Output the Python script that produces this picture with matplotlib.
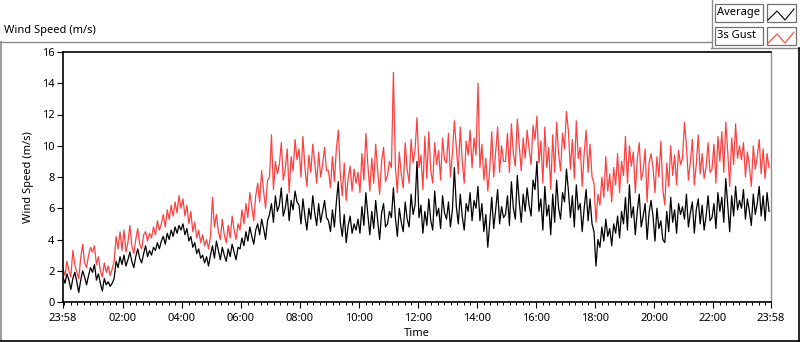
import numpy as np
import matplotlib.pyplot as plt
from matplotlib.lines import Line2D
from matplotlib.patches import Rectangle

plt.rcParams['font.family'] = ['Noto Sans', 'DejaVu Sans']

# 4-minute samples starting at 23:58, one row per hour
avg = [
    1.6, 1.2, 1.8, 1.4, 0.8, 1.5, 1.9, 1.3, 0.6, 1.4, 2.0, 1.6, 1.1, 1.7, 2.2,
    1.9, 2.4, 1.4, 1.8, 1.2, 0.7, 1.5, 1.1, 1.3, 1.0, 1.2, 1.5, 2.6, 2.2, 2.9,
    2.4, 3.0, 2.3, 2.7, 3.2, 2.6, 2.2, 2.9, 3.4, 2.8, 2.5, 3.1, 3.6, 2.9, 3.3,
    3.0, 3.5, 3.3, 3.8, 3.4, 3.9, 4.2, 3.7, 4.4, 4.0, 4.6, 4.2, 4.8, 4.4, 4.9,
    4.6, 5.0, 4.3, 4.7, 3.9, 4.2, 3.5, 3.8, 3.1, 3.4, 2.8, 3.0, 2.5, 2.9, 2.3,
    3.0, 3.6, 2.8, 3.9, 3.3, 2.7, 3.5, 3.0, 2.6, 3.4, 2.9, 3.7, 3.2, 2.7, 3.5,
    3.4, 4.1, 3.6, 4.5, 3.9, 4.8, 4.2, 3.7, 4.6, 5.0, 4.3, 5.3, 4.7, 4.0, 5.2,
    5.6, 6.3, 5.1, 6.8, 5.8, 6.2, 7.3, 5.5, 6.0, 6.9, 5.2, 6.5, 5.9, 7.1, 6.4,
    6.2, 5.0, 6.6, 5.5, 4.6, 6.0, 5.3, 6.8, 5.7, 4.9, 6.3, 5.1, 5.8, 6.5, 5.4,
    5.2, 4.5, 5.9, 4.8, 6.4, 7.7, 5.1, 4.2, 5.6, 3.8, 4.9, 5.5, 4.4, 5.0, 4.6,
    5.3, 4.4, 6.1, 4.9, 7.0, 5.6, 4.3, 5.8, 4.7, 6.5, 5.2, 4.0, 5.7, 6.3, 4.8,
    5.0, 5.8, 5.4, 7.3, 5.4, 4.2, 6.0, 5.1, 4.5, 6.4, 5.3, 4.8, 6.9, 5.6, 6.2,
    9.0, 5.4, 6.2, 4.4, 5.8, 4.9, 6.6, 5.2, 4.6, 7.1, 5.5, 6.0, 4.7, 6.8, 5.7,
    5.3, 6.4, 4.8, 5.9, 8.6, 6.1, 5.0, 6.9, 5.5, 4.6, 6.3, 5.8, 7.0, 5.2, 6.5,
    6.0, 7.4, 5.2, 6.3, 4.5, 5.6, 3.5, 5.1, 6.7, 4.7, 5.9, 7.2, 5.0, 6.1, 5.4,
    5.6, 6.8, 4.9, 7.7, 6.0, 5.3, 8.1, 6.4, 5.1, 6.9, 5.8, 7.3, 6.2, 5.5, 7.8,
    7.2, 9.0, 5.8, 6.6, 4.6, 7.4, 5.5, 6.2, 4.3, 6.9, 5.1, 7.8, 6.0, 5.3, 7.0,
    6.4, 8.5, 7.1, 5.4, 6.8, 4.8, 7.5, 5.9, 6.3, 4.5, 6.0, 7.2, 5.2, 6.6, 5.0,
    4.5, 2.3, 4.0, 3.5, 4.8, 3.9, 5.3, 4.2, 4.7, 3.6, 5.0, 4.4, 5.5, 4.1, 5.8,
    5.0, 6.7, 4.6, 7.5, 5.4, 6.1, 4.3, 5.8, 6.9, 4.8, 5.5, 6.3, 4.0, 5.7, 6.5,
    5.5, 3.9, 6.0, 4.7, 5.2, 4.0, 3.8, 5.8, 4.5, 6.7, 5.1, 5.9, 4.4, 6.3, 5.6,
    6.1, 5.3, 6.9, 4.8, 5.7, 6.4, 4.4, 5.9, 6.6, 5.0, 6.2, 4.6, 5.5, 6.8, 5.2,
    5.4, 6.3, 4.7, 7.0, 5.8, 6.7, 5.1, 7.9, 6.2, 4.5, 6.8, 5.5, 7.4, 5.9, 6.5,
    6.0, 7.2, 5.3, 6.6, 5.8, 4.9, 6.9, 5.6, 6.3, 7.4, 5.5, 6.8, 5.2, 7.0, 5.8,
]
gust = [
    2.1, 1.7, 2.6, 2.0, 1.6, 3.3, 2.4, 1.9, 1.5, 2.8, 3.7, 2.5, 2.2, 3.0, 3.5,
    3.2, 3.6, 2.4, 2.9, 2.0, 1.6, 2.5, 1.9, 2.3, 1.7, 2.1, 2.6, 4.2, 3.4, 4.5,
    3.3, 4.6, 3.2, 3.8, 4.9, 3.6, 3.1, 4.0, 4.7, 3.7, 3.4, 4.3, 4.5, 3.9, 4.4,
    4.1, 4.8, 4.3, 5.2, 4.6, 5.0, 5.6, 4.8, 5.9, 5.3, 6.2, 5.5, 6.4, 5.7, 6.8,
    6.0, 6.6, 5.5, 6.2, 5.0, 5.8, 4.5, 5.1, 4.1, 4.6, 3.8, 4.3, 3.6, 4.0, 3.4,
    4.2, 6.7, 4.8, 5.6, 4.5, 4.0, 5.3, 4.3, 3.8, 4.9, 4.1, 5.5, 4.6, 4.0, 5.0,
    4.6, 5.9, 5.0, 6.3, 5.4, 7.0, 6.1, 5.2, 6.8, 7.6, 6.4, 8.4, 7.1, 6.0, 7.8,
    8.0, 10.7, 7.2, 9.0, 8.2, 8.8, 10.2, 7.8, 8.5, 9.8, 7.0, 9.3, 8.4, 10.4, 9.1,
    9.8, 8.0, 10.6, 8.6, 7.4, 9.4, 8.3, 10.1, 8.9, 7.6, 9.6, 8.0, 8.8, 9.9, 8.4,
    8.4, 7.3, 9.3, 7.7, 9.8, 11.0, 8.2, 6.8, 8.9, 6.5, 7.9, 8.7, 7.1, 8.5, 7.6,
    8.3, 7.0, 9.5, 7.8, 10.8, 8.8, 7.1, 9.2, 7.6, 10.1, 8.4, 6.9, 9.0, 9.9, 7.7,
    8.1, 9.0, 8.6, 14.7, 8.7, 7.0, 9.6, 8.2, 7.3, 10.2, 8.5, 7.6, 10.4, 8.9, 9.7,
    11.8, 8.6, 9.4, 7.2, 10.6, 7.9, 10.9, 8.4, 7.6, 10.2, 8.8, 9.7, 7.8, 10.5, 9.1,
    8.9, 10.8, 8.0, 9.5, 11.6, 9.9, 8.2, 11.2, 9.0, 7.6, 10.3, 9.4, 11.0, 8.6, 10.5,
    9.4, 14.0, 8.6, 10.1, 7.8, 9.2, 7.1, 8.5, 10.9, 8.0, 9.6, 11.2, 8.3, 10.0, 9.0,
    9.0, 10.8, 8.3, 11.4, 9.5, 8.7, 11.7, 10.0, 8.4, 10.5, 9.2, 11.0, 9.8, 8.8, 11.3,
    10.4, 11.9, 8.9, 10.3, 7.6, 11.2, 8.6, 9.9, 7.2, 10.7, 8.3, 11.5, 9.5, 8.4, 10.8,
    9.8, 12.2, 10.9, 8.5, 10.4, 7.9, 11.6, 9.2, 9.9, 7.4, 9.5, 11.0, 8.3, 10.1, 8.0,
    7.6, 5.1, 6.9, 6.2, 8.0, 6.7, 9.3, 7.1, 8.2, 6.4, 8.6, 7.5, 9.5, 7.0, 9.0,
    8.1, 10.6, 7.6, 10.0, 8.7, 9.6, 7.0, 9.1, 10.2, 7.8, 8.4, 9.8, 6.4, 8.9, 9.5,
    8.6, 7.0, 9.3, 8.0, 10.3, 7.2, 6.2, 8.9, 7.4, 10.0, 8.1, 9.4, 7.5, 9.7, 8.8,
    9.2, 11.5, 10.0, 7.8, 9.0, 10.4, 7.5, 8.8, 10.7, 8.2, 9.5, 7.9, 8.6, 10.2, 8.3,
    8.5, 10.1, 7.6, 10.6, 9.0, 10.9, 8.3, 11.5, 9.6, 7.4, 10.5, 8.8, 11.4, 9.2, 10.0,
    9.1, 10.2, 8.0, 9.6, 8.7, 7.4, 10.0, 8.5, 9.3, 10.4, 8.2, 9.8, 7.9, 9.5, 8.6,
]
step_min = 4
tick_min = [0, 122, 242, 362, 482, 602, 722, 842, 962, 1082, 1202, 1322, 1440]
tick_lbl = ['23:58', '02:00', '04:00', '06:00', '08:00', '10:00', '12:00',
            '14:00', '16:00', '18:00', '20:00', '22:00', '23:58']

t = np.arange(len(avg)) * step_min

fig = plt.figure(figsize=(8, 3.42), dpi=100)
ax = fig.add_axes([63 / 800, 40 / 342, 708 / 800, 250 / 342])

ax.plot(t, gust, color='#ff4040', lw=0.9)
ax.plot(t, avg, color='black', lw=0.9)

ax.set_xlim(0, 1440)
ax.set_ylim(0, 16)
ax.set_yticks(range(0, 17, 2))
ax.set_xticks(tick_min)
ax.set_xticklabels(tick_lbl)
minor = [122 + k * 120 / 9 for k in range(-9, 100)]
minor = [m for m in minor if 0 < m < 1440]
ax.set_xticks(minor, minor=True)
ax.tick_params(axis='both', which='major', length=4, width=0.8, labelsize=8, pad=2)
ax.tick_params(axis='x', which='major', pad=4)
ax.tick_params(axis='x', which='minor', length=2.5, width=0.7)
ax.set_ylabel('Wind Speed (m/s)', fontsize=8, labelpad=6)
ax.set_xlabel('Time', fontsize=8, labelpad=3)
for s in ['left', 'top', 'bottom']:
    ax.spines[s].set_color('black')
    ax.spines[s].set_linewidth(1.2)
ax.spines['right'].set_color('#909090')
ax.spines['right'].set_linewidth(1.0)

# panel frame
def fline(x0, y0, x1, y1, c, lw=1.0):
    fig.add_artist(Line2D([x0 / 800, x1 / 800], [1 - y0 / 342, 1 - y1 / 342],
                          color=c, lw=lw))

fline(0, 42, 711, 42, '#8a8a8a')
fline(711.5, 0, 711.5, 48, '#8a8a8a')
fline(711, 48, 800, 48, '#8a8a8a')
fline(0.5, 42, 0.5, 342, '#8a8a8a', 1.2)
fline(0, 340.5, 800, 340.5, 'black', 1.2)
fline(799, 48, 799, 342, 'black', 1.2)

fig.text(4 / 800, 1 - 31 / 342, 'Wind Speed (m/s)', fontsize=8, va='center', ha='left')

# legend boxes
for i, (name, col) in enumerate([('Average', 'black'), ('3s Gust', '#ff4040')]):
    y0 = 4 + i * 23
    fig.add_artist(Rectangle((715 / 800, 1 - (y0 + 18) / 342), 48 / 800, 18 / 342,
                             facecolor='white', edgecolor='#707070', lw=0.9))
    fig.text(717 / 800, 1 - (y0 + 9) / 342, name, fontsize=8, va='center', ha='left')
    fig.add_artist(Rectangle((767 / 800, 1 - (y0 + 18) / 342), 29 / 800, 18 / 342,
                             facecolor='white', edgecolor='#707070', lw=0.9))
    xs = np.array([768, 777, 785, 794]) / 800
    ys = 1 - (y0 + np.array([16, 7, 16, 5])) / 342
    fig.add_artist(Line2D(xs, ys, color=col, lw=0.8))

fig.savefig('out.png', dpi=100)
